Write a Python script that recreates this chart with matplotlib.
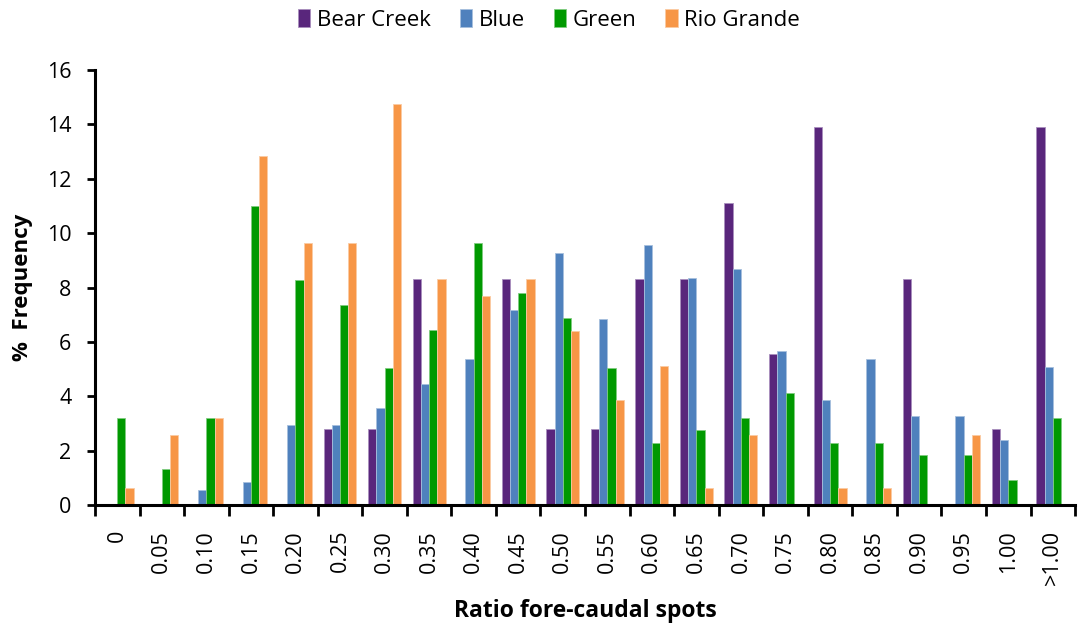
import matplotlib
matplotlib.use('Agg')
import matplotlib.pyplot as plt
import numpy as np

plt.rcParams['font.family'] = ['Open Sans', 'DejaVu Sans']

categories = ['0', '0.05', '0.10', '0.15', '0.20', '0.25', '0.30', '0.35', '0.40', '0.45', '0.50',
              '0.55', '0.60', '0.65', '0.70', '0.75', '0.80', '0.85', '0.90', '0.95', '1.00', '>1.00']

bear_creek = [0, 0, 0, 0, 0, 2.78, 2.78, 8.33, 0, 8.33, 2.78,
              2.78, 8.33, 8.33, 11.11, 5.56, 13.89, 0, 8.33, 0, 2.78, 13.89]
blue = [0, 0, 0.55, 0.85, 2.96, 2.96, 3.57, 4.46, 5.36, 7.17, 9.26,
        6.85, 9.57, 8.36, 8.67, 5.66, 3.85, 5.36, 3.27, 3.27, 2.38, 5.06]
green = [3.21, 1.34, 3.21, 11.01, 8.26, 7.34, 5.05, 6.42, 9.63, 7.80, 6.88,
         5.05, 2.29, 2.75, 3.21, 4.13, 2.29, 2.29, 1.83, 1.83, 0.92, 3.21]
rio_grande = [0.64, 2.56, 3.21, 12.82, 9.62, 9.62, 14.74, 8.33, 7.69, 8.33, 6.41,
              3.85, 5.13, 0.64, 2.56, 0, 0.64, 0.64, 0, 2.56, 0, 0]

series = [('Bear Creek', bear_creek, '#59267c', '#a98fbd'),
          ('Blue', blue, '#4f81bd', '#a7c0de'),
          ('Green', green, '#009900', '#80cc80'),
          ('Rio Grande', rio_grande, '#f79646', '#fbcaa2')]

fig = plt.figure(figsize=(10.83, 6.25), dpi=100)
ax = fig.add_axes([0.0877, 0.192, 0.905, 0.696])

x = np.arange(len(categories))
w = 0.185
for k, (name, vals, col, edge) in enumerate(series):
    ax.bar(x + (k - 1.5) * w, vals, width=w, color=col, edgecolor=edge, linewidth=0.6, label=name)

ax.set_xlim(-0.5, len(categories) - 0.5)
ax.set_ylim(0, 16)
ax.set_yticks(range(0, 17, 2))
ax.tick_params(axis='y', labelsize=15.5, width=2, length=6, direction='out', pad=11)

# category labels centred, tick marks on the boundaries
ax.set_xticks(x)
ax.set_xticklabels(categories, rotation=90, fontsize=15.5, va='top')
ax.tick_params(axis='x', which='major', length=0, pad=18)
ax.set_xticks(np.arange(-0.5, len(categories)), minor=True)
ax.tick_params(axis='x', which='minor', length=8, width=2, direction='out')

for side in ['top', 'right']:
    ax.spines[side].set_visible(False)
for side in ['left', 'bottom']:
    ax.spines[side].set_linewidth(2.2)

ax.set_ylabel('%  Frequency', fontsize=16, fontweight='bold', labelpad=10)
ax.set_xlabel('Ratio fore-caudal spots', fontsize=16.5, fontweight='bold', labelpad=10)

fig.legend(loc='upper center', bbox_to_anchor=(0.507, 1.018), ncol=4, frameon=False,
           fontsize=16, handlelength=0.55, handleheight=0.9, handletextpad=0.3, columnspacing=1.3)

fig.savefig('out.png', dpi=100)
